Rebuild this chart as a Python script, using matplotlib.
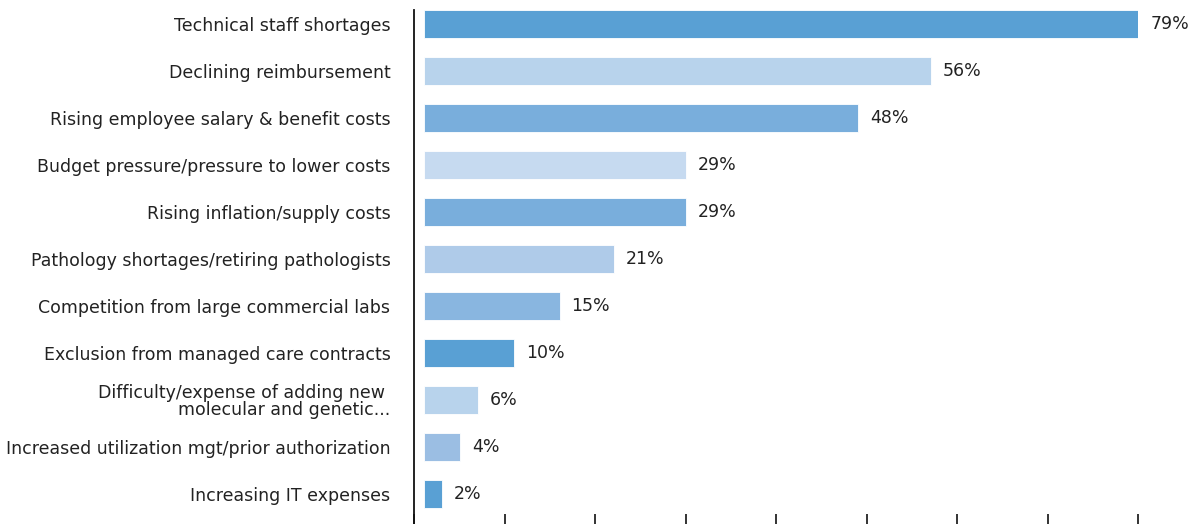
import matplotlib
matplotlib.use("Agg")
import matplotlib.pyplot as plt

categories = [
    "Technical staff shortages",
    "Declining reimbursement",
    "Rising employee salary & benefit costs",
    "Budget pressure/pressure to lower costs",
    "Rising inflation/supply costs",
    "Pathology shortages/retiring pathologists",
    "Competition from large commercial labs",
    "Exclusion from managed care contracts",
    "Difficulty/expense of adding new \nmolecular and genetic...",
    "Increased utilization mgt/prior authorization",
    "Increasing IT expenses",
]
values = [79, 56, 48, 29, 29, 21, 15, 10, 6, 4, 2]
colors = ["#59a0d4", "#b8d3ec", "#79aedc", "#c6daf0", "#79aedc", "#afcbe9",
          "#89b6e0", "#59a0d4", "#b8d3ec", "#9bbee3", "#59a0d4"]
x_ticks = [0, 10, 20, 30, 40, 50, 60, 70, 80]

plt.rcParams['font.family'] = ['DejaVu Sans']

fig = plt.figure(figsize=(11.97, 5.24), dpi=100)
ax = fig.add_axes([414 / 1197, 0.0, (1138 - 414) / 1197, 514 / 524])

pos = list(range(len(categories)))
bar_offset = 1.1  # bars start slightly right of the axis line
ax.barh(pos, values, left=bar_offset, height=0.58, color=colors,
        edgecolor="white", linewidth=0.6)

for p, v in zip(pos, values):
    ax.text(v + bar_offset + 1.3, p, f"{v}%", va="center", ha="left",
            fontsize=12.5, color="#222222")

ax.set_yticks(pos)
ax.set_yticklabels(categories, fontsize=12.5, color="#222222", linespacing=0.95)
ax.tick_params(axis="y", length=0, pad=17)
ax.set_ylim(10.64, -0.3)

ax.set_xlim(0, 80)
ax.set_xticks(x_ticks)
ax.set_xticklabels([])
ax.tick_params(axis="x", direction="in", length=7, width=1.2, color="#111111")

for s in ["top", "right", "bottom"]:
    ax.spines[s].set_visible(False)
ax.spines["left"].set_linewidth(1.3)
ax.spines["left"].set_color("#111111")

fig.savefig("out.png", dpi=100)
